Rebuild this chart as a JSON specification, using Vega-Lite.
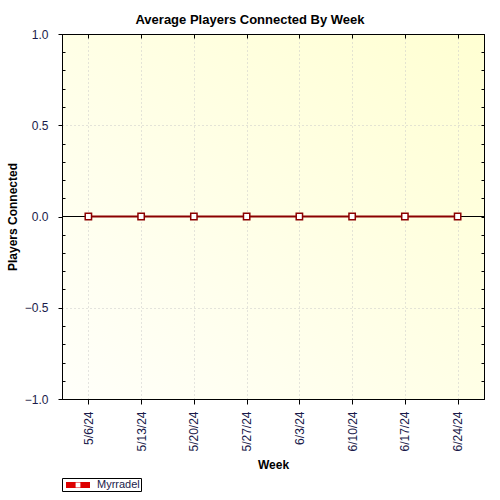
{
  "$schema": "https://vega.github.io/schema/vega-lite/v6.json",
  "width": 422,
  "height": 365,
  "autosize": "none",
  "padding": {"left": 62, "top": 34, "right": 16, "bottom": 101},
  "background": "white",
  "title": {
    "text": "Average Players Connected By Week",
    "font": "Liberation Sans",
    "fontSize": 13,
    "fontWeight": "bold",
    "color": "black",
    "anchor": "middle",
    "offset": 1,
    "dx": -23
  },
  "data": {
    "values": [
      {"week": "5/6/24", "players": 0, "server": "Myrradel"},
      {"week": "5/13/24", "players": 0, "server": "Myrradel"},
      {"week": "5/20/24", "players": 0, "server": "Myrradel"},
      {"week": "5/27/24", "players": 0, "server": "Myrradel"},
      {"week": "6/3/24", "players": 0, "server": "Myrradel"},
      {"week": "6/10/24", "players": 0, "server": "Myrradel"},
      {"week": "6/17/24", "players": 0, "server": "Myrradel"},
      {"week": "6/24/24", "players": 0, "server": "Myrradel"}
    ]
  },
  "config": {
    "view": {
      "stroke": "black",
      "strokeWidth": 1,
      "fill": {
        "gradient": "linear",
        "x1": 0, "y1": 1, "x2": 1, "y2": 0,
        "stops": [
          {"offset": 0, "color": "#fffffa"},
          {"offset": 1, "color": "#ffffd2"}
        ]
      }
    },
    "axis": {
      "labelFont": "Liberation Sans",
      "labelFontSize": 12,
      "labelColor": "#1a1a4a",
      "titleFont": "Liberation Sans",
      "titleFontSize": 12,
      "titleFontWeight": "bold",
      "titleColor": "black",
      "domainColor": "black",
      "tickColor": "black",
      "gridColor": "#c8c8c8",
      "gridDash": [1, 3]
    }
  },
  "resolve": {"axis": {"x": "independent", "y": "independent"}},
  "layer": [
    {
      "mark": {"type": "rule", "color": "black", "strokeWidth": 1},
      "encoding": {
        "y": {"datum": 0, "type": "quantitative", "axis": null}
      }
    },
    {
      "mark": {"type": "line", "strokeWidth": 2},
      "encoding": {
        "x": {
          "field": "week",
          "type": "ordinal",
          "sort": null,
          "axis": {
            "title": "Week",
            "titlePadding": 8,
            "labelAngle": -90,
            "labelPadding": 7,
            "tickSize": 5,
            "grid": true
          }
        },
        "y": {
          "field": "players",
          "type": "quantitative",
          "scale": {"domain": [-1, 1], "nice": false, "zero": false},
          "axis": {
            "title": "Players Connected",
            "titlePadding": 5,
            "values": [-1, -0.9, -0.8, -0.7, -0.6, -0.5, -0.4, -0.3, -0.2, -0.1, 0, 0.1, 0.2, 0.3, 0.4, 0.5, 0.6, 0.7, 0.8, 0.9, 1],
            "labelExpr": "indexof([-1, -0.5, 0, 0.5, 1], datum.value) >= 0 ? format(datum.value, '-.1f') : ''",
            "tickSize": {"condition": {"test": "indexof([-1, -0.5, 0, 0.5, 1], datum.value) >= 0", "value": 4}, "value": -3},
            "labelPadding": 10,
            "grid": true,
            "gridOpacity": {"condition": {"test": "datum.value == 0.5 || datum.value == -0.5", "value": 1}, "value": 0}
          }
        },
        "color": {
          "field": "server",
          "type": "nominal",
          "scale": {"range": ["#8b0000"]},
          "legend": {
            "orient": "none",
            "legendX": 0,
            "legendY": 444,
            "direction": "horizontal",
            "title": null,
            "strokeColor": "black",
            "fillColor": "white",
            "padding": 1,
            "symbolType": "M-2,-0.5H2V0.5H-2Z M-0.4,-0.4V0.4H0.4V-0.4Z",
            "symbolSize": 144,
            "symbolOffset": 9,
            "labelOffset": 13,
            "labelFont": "Liberation Sans",
            "labelFontSize": 11,
            "labelColor": "#1a1a4a",
            "encode": {
              "symbols": {
                "update": {
                  "fill": {"value": "#dd0000"},
                  "strokeWidth": {"value": 0}
                }
              }
            }
          }
        }
      }
    },
    {
      "mark": {"type": "point", "shape": "square", "filled": true, "fill": "white", "stroke": "#8b0000", "strokeWidth": 1.5, "size": 40, "opacity": 1},
      "encoding": {
        "x": {
          "field": "week",
          "type": "ordinal",
          "sort": null,
          "axis": {"orient": "top", "labels": false, "title": null, "tickSize": -4, "grid": false}
        },
        "y": {
          "field": "players",
          "type": "quantitative",
          "axis": {
            "orient": "right",
            "labels": false,
            "title": null,
            "grid": false,
            "values": [-1, -0.9, -0.8, -0.7, -0.6, -0.5, -0.4, -0.3, -0.2, -0.1, 0, 0.1, 0.2, 0.3, 0.4, 0.5, 0.6, 0.7, 0.8, 0.9, 1],
            "tickSize": -3
          }
        }
      }
    }
  ]
}
